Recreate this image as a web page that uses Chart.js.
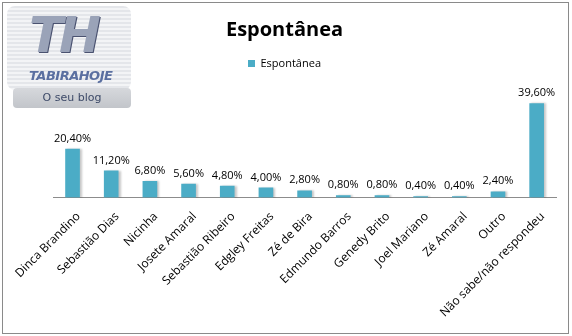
<!DOCTYPE html>
<html>
<head>
<meta charset="utf-8">
<script src="https://cdn.jsdelivr.net/npm/chart.js@4"></script>
<style>
  body { margin: 0; background: #fff; font-family: "Open Sans", sans-serif; }
  #frame { position: absolute; left: 2px; top: 2px; width: 565px; height: 330px; border: 1px solid #8a8a8a; }
  #logo { position: absolute; left: 7px; top: 6px; width: 124px; height: 104px; }
  #logo .box { position: absolute; left: 0; top: 0; width: 124px; height: 84px; border-radius: 8px;
    background: repeating-linear-gradient(#e4e6ea 0 2px, #f3f4f6 2px 4px); }
  #logo .th { position: absolute; left: 22px; top: 0; font: italic 900 50px "DejaVu Sans", sans-serif;
    color: #9aa3b8; letter-spacing: -4px; text-shadow: 1px 1px 0 #4a5270; }
  #logo .name { position: absolute; left: 22px; top: 62px; font: italic 900 13px "DejaVu Sans", sans-serif;
    color: #5a6fa0; letter-spacing: -0.5px; }
  #logo .tab { position: absolute; left: 6px; top: 82px; width: 118px; height: 20px; border-radius: 4px;
    background: linear-gradient(#d6d8dc, #c2c5ca); text-align: center; font: 11px Verdana, "DejaVu Sans", sans-serif;
    line-height: 20px; color: #3d4a68; }
</style>
</head>
<body>
<div id="frame">
  <canvas id="chart" width="565" height="330"></canvas>
</div>
<div id="logo">
  <div class="box"></div>
  <div class="th">TH</div>
  <div class="name">TABIRAHOJE</div>
  <div class="tab">O seu blog</div>
</div>
<script>
// Data
const categories = ['Dinca Brandino', 'Sebastião Dias', 'Nicinha', 'Josete Amaral', 'Sebastião Ribeiro',
  'Edgley Freitas', 'Zé de Bira', 'Edmundo Barros', 'Genedy Brito', 'Joel Mariano', 'Zé Amaral',
  'Outro', 'Não sabe/não respondeu'];
const espontanea = [20.4, 11.2, 6.8, 5.6, 4.8, 4.0, 2.8, 0.8, 0.8, 0.4, 0.4, 2.4, 39.6];
const seriesName = 'Espontânea';

const fontFamily = '"Open Sans", sans-serif';

// soft shadow on the bars
const barShadow = {
  id: 'barShadow',
  beforeDatasetsDraw(chart) {
    const ctx = chart.ctx;
    ctx.save();
    ctx.shadowColor = 'rgba(0,0,0,0.22)';
    ctx.shadowOffsetX = 2;
    ctx.shadowOffsetY = 0;
    ctx.shadowBlur = 2;
  },
  afterDatasetsDraw(chart) {
    chart.ctx.restore();
  }
};

// value labels over the bars
const valueLabels = {
  id: 'valueLabels',
  afterDatasetsDraw(chart) {
    const ctx = chart.ctx;
    const meta = chart.getDatasetMeta(0);
    ctx.save();
    ctx.font = '11px ' + fontFamily;
    ctx.fillStyle = '#000';
    ctx.textAlign = 'center';
    ctx.textBaseline = 'bottom';
    meta.data.forEach((bar, i) => {
      const txt = espontanea[i].toFixed(2).replace('.', ',') + '%';
      ctx.fillText(txt, bar.x, bar.y - 5);
    });
    ctx.restore();
  }
};

new Chart(document.getElementById('chart').getContext('2d'), {
  type: 'bar',
  data: {
    labels: categories,
    datasets: [{
      label: seriesName,
      data: espontanea,
      backgroundColor: '#4bacc6',
      barThickness: 14
    }]
  },
  options: {
    responsive: false,
    animation: false,
    layout: { padding: { left: 10, right: 12, top: 0, bottom: 1 } },
    plugins: {
      title: {
        display: true,
        text: seriesName,
        color: '#000',
        font: { family: fontFamily, size: 20, weight: 'bold' },
        padding: { top: 15, bottom: 6 }
      },
      legend: {
        labels: {
          color: '#000',
          boxWidth: 7,
          boxHeight: 7,
          font: { family: fontFamily, size: 11 }
        }
      },
      tooltip: { enabled: false }
    },
    scales: {
      x: {
        grid: { display: false, drawTicks: false },
        border: { display: true, color: '#8c8c8c' },
        ticks: {
          color: '#000',
          maxRotation: 45,
          minRotation: 45,
          padding: 12,
          labelOffset: 6,
          font: { family: fontFamily, size: 12 }
        },
        afterFit(scale) {
          scale.paddingLeft = Math.max(scale.paddingLeft - 4, 0);
        }
      },
      y: {
        display: false,
        min: 0,
        max: 50
      }
    }
  },
  plugins: [barShadow, valueLabels]
});
</script>
</body>
</html>
